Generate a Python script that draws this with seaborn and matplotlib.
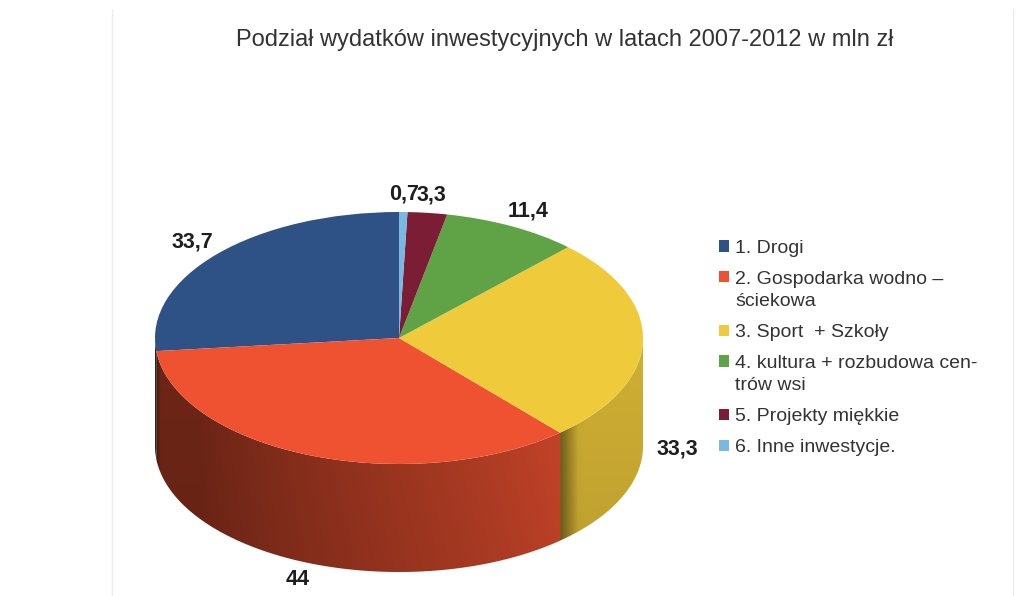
import numpy as np
import matplotlib
matplotlib.use("Agg")
import matplotlib.pyplot as plt
from matplotlib.patches import Polygon
import seaborn as sns

# data
categories = ["1. Drogi", "2. Gospodarka wodno –\nściekowa", "3. Sport  + Szkoły",
              "4. kultura + rozbudowa cen-\ntrów wsi", "5. Projekty miękkie",
              "6. Inne inwestycje."]
values = [33.7, 44, 33.3, 11.4, 3.3, 0.7]
colors = ["#2e5186", "#ef5231", "#efcb3b", "#5fa346", "#7b1e35", "#79b8e3"]
title = "Podział wydatków inwestycyjnych w latach 2007-2012 w mln zł"

sns.set_theme(style="white")
plt.rcParams["font.family"] = ["Liberation Sans", "DejaVu Sans"]

W, H = 1018, 596
fig = plt.figure(figsize=(W / 100, H / 100), dpi=100)
ax = fig.add_axes([0, 0, 1, 1])

# pie geometry (pixels), y squashed to fake a tilted disc
k = 126 / 244
R = 244
cx, cy = 399, (H - 338) / k
depth = 108 / k

wedges, _ = ax.pie(values, colors=colors, startangle=90, counterclock=True,
                   center=(cx, cy), radius=R, wedgeprops=dict(linewidth=0, zorder=3))

# side wall of the front half, shaded with a gradient image
for w in wedges:
    t1, t2 = max(w.theta1, 180), min(w.theta2, 360)
    if t2 <= t1:
        continue
    base = np.array(matplotlib.colors.to_rgb(w.get_facecolor()))
    tt = np.radians(np.linspace(t1, t2, 200))
    xs = cx + R * np.cos(tt)
    ys = cy + R * np.sin(tt)
    poly = Polygon(np.c_[np.r_[xs, xs[::-1]], np.r_[ys, ys[::-1] - depth]],
                   closed=True, transform=ax.transData)
    x0, x1 = xs.min(), xs.max()
    y0, y1 = ys.min() - depth, ys.max()
    gx = np.linspace(x0, x1, 300)
    gy = np.linspace(0, 1, 60)[:, None]
    ang = 360 - np.degrees(np.arccos(np.clip((gx - cx) / R, -1, 1)))
    s = 0.42 + 0.44 * np.clip((ang - 215) / 105, 0, 1)
    if w.theta1 > 180:
        s = s * (0.55 + 0.45 * np.clip((ang - w.theta1) / 6, 0, 1))
    s = s[None, :] * (0.92 + 0.08 * gy)
    img = np.clip(base[None, None, :] * s[:, :, None], 0, 1)
    # warm the dark part a little (brownish red rather than black)
    img = np.clip(img + 0.06 * (1 - s)[:, :, None] * np.array([1.0, 0.35, 0.25]), 0, 1)
    im = ax.imshow(img, extent=(x0, x1, y0, y1), origin="lower", aspect="auto",
                   interpolation="bilinear", zorder=2)
    im.set_clip_path(poly)

ax.set_aspect("auto")
ax.set_xlim(0, W)
ax.set_ylim(0, H / k)
ax.axis("off")

# value labels
for w, v in zip(wedges, values):
    mid = np.radians((w.theta1 + w.theta2) / 2)
    x = cx + 1.14 * R * np.cos(mid)
    y = cy + 1.14 * R * np.sin(mid)
    if np.sin(mid) < 0:
        y -= depth
    ax.text(x, y, f"{v:g}".replace(".", ","), ha="center", va="center",
            fontsize=15.5, fontweight="bold", color="#1e1e1e", zorder=5)

# faint frame lines
ax.plot([112, 112], [0, (H - 9) / k], color="#ececec", lw=1)
ax.plot([1013, 1013], [0, (H - 9) / k], color="#ececec", lw=1)

fig.text(565 / W, 1 - 40 / H, title, ha="center", va="center", fontsize=17, color="#333333")

leg = fig.legend(wedges, categories, loc="upper left", bbox_to_anchor=(719 / W, 1 - 240 / H),
                 frameon=False, fontsize=14, handlelength=0.52, handleheight=0.52,
                 handletextpad=0.3, labelspacing=0.72, borderpad=0, borderaxespad=0,
                 labelcolor="#333333")
for t in leg.get_texts():
    t.set_linespacing(1.4)
# put the square next to the first line of two-line entries
for col in leg._legend_handle_box.get_children():
    for row in col.get_children():
        txt = row.get_children()[1]
        if "\n" in txt._text.get_text():
            row.align = "top"

fig.savefig("out.png", dpi=100, facecolor="white")
